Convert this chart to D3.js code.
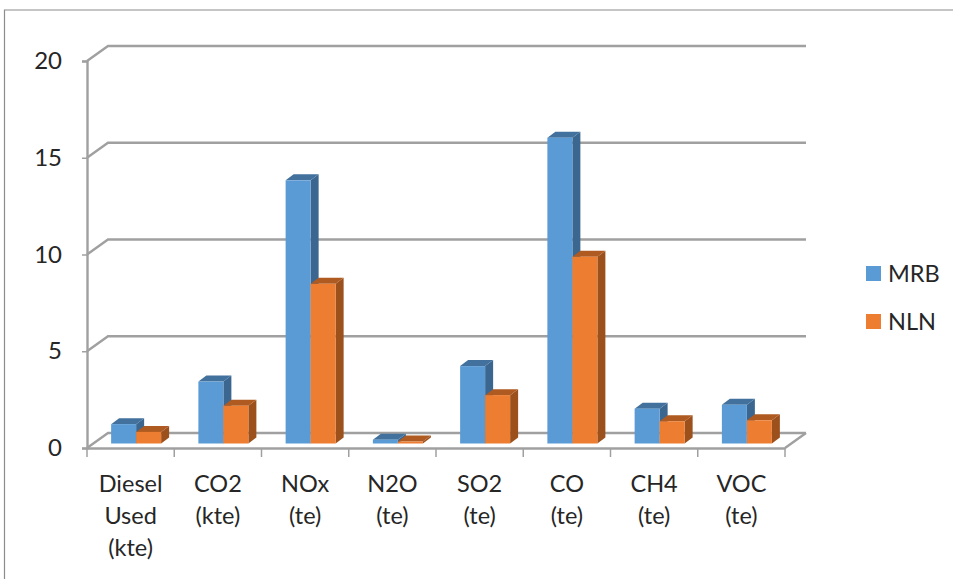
<!DOCTYPE html>
<html>
<head>
<meta charset="utf-8">
<script src="https://cdn.jsdelivr.net/npm/d3@7"></script>
<style>
  html, body { margin: 0; padding: 0; background: #fff; }
  text { font-family: Lato, "Open Sans", sans-serif; fill: #262626; }
  .axis .domain, .axis line { stroke: #a0a0a0; }
</style>
</head>
<body>
<div id="chart"></div>
<script>
const categories = [
    ["Diesel", "Used", "(kte)"],
    ["CO2", "(kte)"],
    ["NOx", "(te)"],
    ["N2O", "(te)"],
    ["SO2", "(te)"],
    ["CO", "(te)"],
    ["CH4", "(te)"],
    ["VOC", "(te)"],
];
const mrb = [1.0, 3.2, 13.6, 0.2, 4.0, 15.8, 1.8, 2.0];
const nln = [0.6, 1.95, 8.25, 0.1, 2.5, 9.65, 1.15, 1.2];
const yTicks = [0, 5, 10, 15, 20];
const seriesNames = ["MRB", "NLN"];

const width = 953;
const height = 579;
const margin = { top: 61, bottom: 131, left: 87, right: 168 };
const depth = { x: 21, y: 15 };     // floor offset of the 3d box
const barDepth = { x: 8, y: 6 };    // offset of a bar's top / side
const colors = {
    MRB: { front: "#5b9bd5", top: "#41719c", side: "#3b6690" },
    NLN: { front: "#ed7d31", top: "#ae5a21", side: "#9c511d" },
};

const svg = d3.select("div#chart").append("svg")
    .attr("width", width)
    .attr("height", height)
    .style("display", "block");

// frame around the chart
svg.append("path")
    .attr("d", `M${width},10 H4.5 V${height}`)
    .attr("fill", "none")
    .attr("stroke", "#8c8c8c")
    .attr("stroke-width", 1.2);

const x = d3.scaleBand()
    .domain(d3.range(categories.length))
    .range([margin.left, width - margin.right]);
const y = d3.scaleLinear()
    .domain([0, 20])
    .range([height - margin.bottom, margin.top]);
const xInner = d3.scaleBand()
    .domain(seriesNames)
    .range([0, x.bandwidth()])
    .paddingOuter(0.745)
    .paddingInner(0);

// back wall grid and side diagonals
const grid = svg.append("g").attr("fill", "none").attr("stroke", "#a0a0a0").attr("stroke-width", 2.4);
yTicks.forEach((t) => {
    grid.append("path").attr("d",
        `M${margin.left},${y(t)} l${depth.x},${-depth.y} H${width - margin.right + depth.x}`);
});
grid.append("path").attr("d",
    `M${width - margin.right},${y(0)} l${depth.x},${-depth.y}`);

// axes
const yAxis = d3.axisLeft(y).tickValues(yTicks).tickSize(5).tickPadding(6);
const yAxisGroup = svg.append("g").attr("class", "axis")
    .attr("transform", `translate(${margin.left},0)`)
    .call(yAxis);
yAxisGroup.select(".domain").attr("stroke-width", 2.4);
yAxisGroup.selectAll("text").style("font-size", "24px").attr("x", -25);
yAxisGroup.selectAll("line").attr("stroke-width", 1.5);

const xAxis = d3.axisBottom(x).tickSize(0).tickFormat("");
const xAxisGroup = svg.append("g").attr("class", "axis")
    .attr("transform", `translate(0,${y(0)})`)
    .call(xAxis);
xAxisGroup.select(".domain").attr("stroke-width", 2.4);
xAxisGroup.selectAll(".sep")
    .data(d3.range(categories.length + 1))
    .enter().append("line")
    .attr("class", "sep")
    .attr("x1", (d) => margin.left + d * x.step())
    .attr("x2", (d) => margin.left + d * x.step())
    .attr("y1", 0)
    .attr("y2", 9)
    .attr("stroke-width", 1.5);

// category labels, one line per row
const labels = svg.append("g").selectAll("text")
    .data(categories)
    .enter().append("text")
    .attr("text-anchor", "middle")
    .style("font-size", "23.5px")
    .attr("transform", (d, i) => `translate(${x(i) + x.bandwidth() / 2},0)`);
labels.selectAll("tspan")
    .data((d) => d)
    .enter().append("tspan")
    .attr("x", 0)
    .attr("y", (d, i) => 492 + i * 32)
    .text((d) => d);

// bars: the base sits part way into the floor
const baseDx = 5.5;
const baseDy = 4.5;
function drawBars(name, values) {
    const c = colors[name];
    const g = svg.append("g").attr("class", name);
    const item = g.selectAll("g").data(values).enter().append("g");
    const left = (i) => x(i) + xInner(name) + baseDx;
    const w = xInner.bandwidth();
    const top = (d) => y(d) - baseDy;
    const base = y(0) - baseDy;

    item.append("path")
        .attr("fill", c.side)
        .attr("d", (d, i) => `M${left(i) + w},${top(d)} l${barDepth.x},${-barDepth.y} V${base - barDepth.y} l${-barDepth.x},${barDepth.y} Z`);
    item.append("path")
        .attr("fill", c.top)
        .attr("d", (d, i) => `M${left(i)},${top(d)} l${barDepth.x},${-barDepth.y} h${w} l${-barDepth.x},${barDepth.y} Z`);
    item.append("rect")
        .attr("fill", c.front)
        .attr("x", (d, i) => left(i))
        .attr("y", (d) => top(d))
        .attr("width", w)
        .attr("height", (d) => base - top(d));
}
drawBars("MRB", mrb);
drawBars("NLN", nln);

// legend
const legendY = d3.scalePoint().domain(seriesNames).range([274, 322]);
const legend = svg.append("g").selectAll("g")
    .data(seriesNames)
    .enter().append("g")
    .attr("transform", (d) => `translate(866,${legendY(d)})`);
legend.append("rect")
    .attr("y", -8)
    .attr("width", 15)
    .attr("height", 15)
    .attr("fill", (d) => colors[d].front);
legend.append("text")
    .attr("x", 22)
    .attr("y", 8)
    .style("font-size", "23.5px")
    .text((d) => d);
</script>
</body>
</html>
